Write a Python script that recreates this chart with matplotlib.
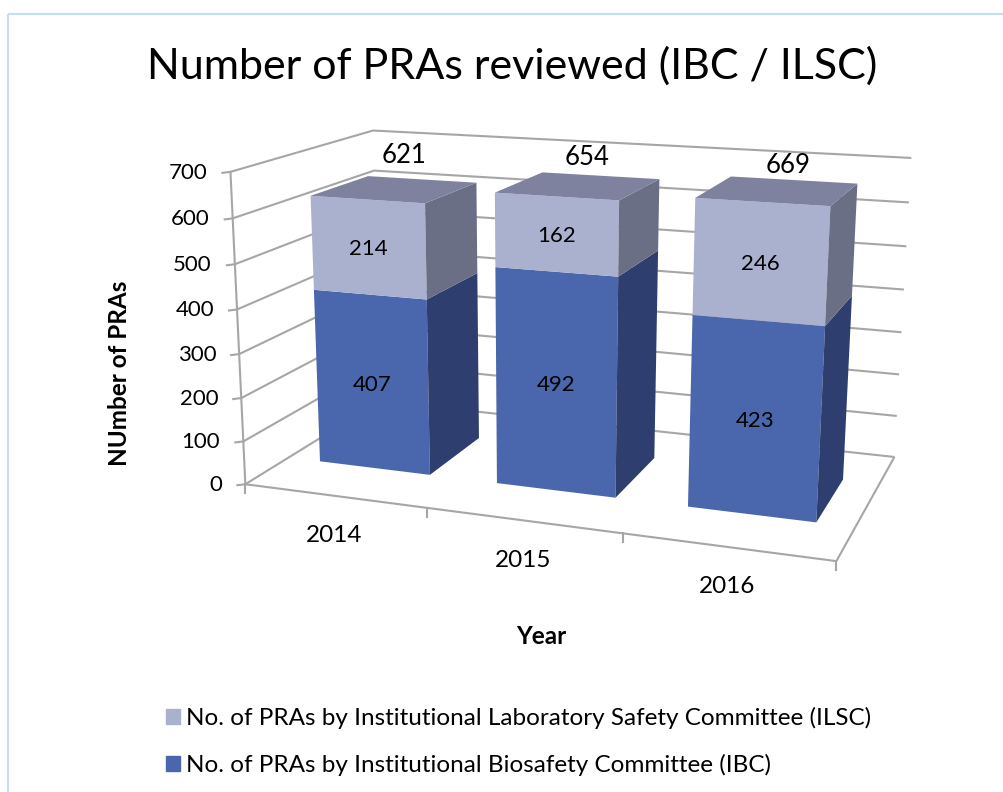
import matplotlib
matplotlib.use('Agg')
import matplotlib.pyplot as plt
import numpy as np
from matplotlib.patches import Patch, Rectangle

years = ['2014', '2015', '2016']
ibc = [407, 492, 423]
ilsc = [214, 162, 246]
totals = [621, 654, 669]
y_ticks = [0, 100, 200, 300, 400, 500, 600, 700]

title = 'Number of PRAs reviewed (IBC / ILSC)'
label_ilsc = 'No. of PRAs by Institutional Laboratory Safety Committee (ILSC)'
label_ibc = 'No. of PRAs by Institutional Biosafety Committee (IBC)'

# camera calibration: (category, value, depth) of the box against pixels
calib_3d = [(0, 0, 0), (0, 700, 0), (0, 700, 1), (0, 0, 1), (3, 700, 1), (3, 0, 1), (3, 0, 0),
            (1, 0, 0), (2, 0, 0), (3, 400, 1), (3, 200, 1), (0, 400, 0), (0, 200, 0), (0, 600, 1)]
calib_px = [(246, 484), (228, 172), (374, 131), (378, 402), (911, 158), (895, 456), (836, 562),
            (427, 507), (623, 534), (904, 290), (899, 374), (238, 309), (242, 398), (375, 170)]


def fit_camera():
    rows = []
    for (a, b, c), (u, v) in zip(calib_3d, calib_px):
        b = b / 100.0
        rows.append([a, b, c, 1, 0, 0, 0, 0, -u * a, -u * b, -u * c, -u])
        rows.append([0, 0, 0, 0, a, b, c, 1, -v * a, -v * b, -v * c, -v])
    return np.linalg.svd(np.array(rows, dtype=float))[2][-1].reshape(3, 4)


cam = fit_camera()


def project(cat, val, depth):
    p = cam @ np.array([cat, val / 100.0, depth, 1.0])
    return p[:2] / p[2]


def face(ax, pts, color, z):
    xy = np.array([project(*q) for q in pts])
    ax.fill(xy[:, 0], xy[:, 1], color=color, lw=0, zorder=z)


def line(ax, pts, z=1):
    xy = np.array([project(*q) for q in pts])
    ax.plot(xy[:, 0], xy[:, 1], color='#a6a6a6', lw=1.5, zorder=z, solid_capstyle='butt')


def block(ax, i, v0, v1, front, side, top=None):
    x0, x1 = i + bar_center - bar_half, i + bar_center + bar_half
    z0, z1 = bar_depth
    face(ax, [(x0, v0, z0), (x1, v0, z0), (x1, v1, z0), (x0, v1, z0)], front, 3)
    face(ax, [(x1, v0, z0), (x1, v0, z1), (x1, v1, z1), (x1, v1, z0)], side, 3)
    if top:
        face(ax, [(x0, v1, z0), (x1, v1, z0), (x1, v1, z1), (x0, v1, z1)], top, 3)


bar_center = 0.5
bar_half = 0.315
bar_depth = (0.29, 0.71)
total_dx = [-18, -13, -5]
total_dy = [-24, -18, -15]

plt.rcParams['font.family'] = ['Lato', 'DejaVu Sans']

fig = plt.figure(figsize=(10.04, 7.92), dpi=100)
ax = fig.add_axes([0, 0, 1, 1])
ax.set_xlim(0, 1004)
ax.set_ylim(792, 0)
ax.axis('off')

# thin frame of the chart area
ax.add_patch(Rectangle((8.5, 14), 1100, 900, fc='none', ec='#c5dcf5', lw=1.5))

# walls and floor
for v in y_ticks:
    line(ax, [(0, v, 0), (0, v, 1), (3, v, 1)])
    xy = project(0, v, 0)
    ax.plot([xy[0] - 8, xy[0]], [xy[1] + 1, xy[1]], color='#a6a6a6', lw=1.5, zorder=1)
    ax.text(xy[0] - 23, xy[1] + 1, str(v), ha='right', va='center', fontsize=16, color='black')
line(ax, [(0, 0, 0), (0, 700, 0)])
line(ax, [(0, 0, 0), (3, 0, 0), (3, 0, 1)])
for i in range(4):
    xy = project(i, 0, 0)
    ax.plot([xy[0], xy[0]], [xy[1], xy[1] + 9], color='#a6a6a6', lw=1.5, zorder=1)

# bars
for i in range(len(years)):
    block(ax, i, 0, ibc[i], '#4a66ac', '#2e3f6f')
    block(ax, i, ibc[i], ibc[i] + ilsc[i], '#a9b1cf', '#6a6f85', '#7e829e')

    xy = project(i + bar_center, ibc[i] / 2, bar_depth[0])
    ax.text(xy[0], xy[1] + 2, str(ibc[i]), ha='center', va='center', fontsize=16, color='black', zorder=5)
    xy = project(i + bar_center, ibc[i] + ilsc[i] / 2, bar_depth[0])
    ax.text(xy[0], xy[1] + 2, str(ilsc[i]), ha='center', va='center', fontsize=16, color='black', zorder=5)
    xy = project(i + bar_center, totals[i], bar_depth[1])
    ax.text(xy[0] + total_dx[i], xy[1] + total_dy[i], str(totals[i]), ha='center', va='center',
            fontsize=18.5, color='black', zorder=5)

    xy = project(i + 0.5, 0, 0)
    ax.text(xy[0], xy[1] + 40, years[i], ha='center', va='center', fontsize=17.5, color='black')

ax.text(512, 66, title, ha='center', va='center', fontsize=31, color='black')
ax.text(120, 373, 'NUmber of PRAs', rotation=90, ha='center', va='center', fontsize=17.5, fontweight='bold')
ax.text(541, 637, 'Year', ha='center', va='center', fontsize=17.5, fontweight='bold')

handles = [Patch(color='#a9b1cf', label=label_ilsc), Patch(color='#4a66ac', label=label_ibc)]
ax.legend(handles=handles, loc='upper left', bbox_to_anchor=(154, 695), bbox_transform=ax.transData,
          frameon=False, fontsize=17.5, handlelength=0.58, handleheight=0.58, handletextpad=0.25,
          labelspacing=1.0, borderpad=0.0)

fig.savefig('out.png', dpi=100)
